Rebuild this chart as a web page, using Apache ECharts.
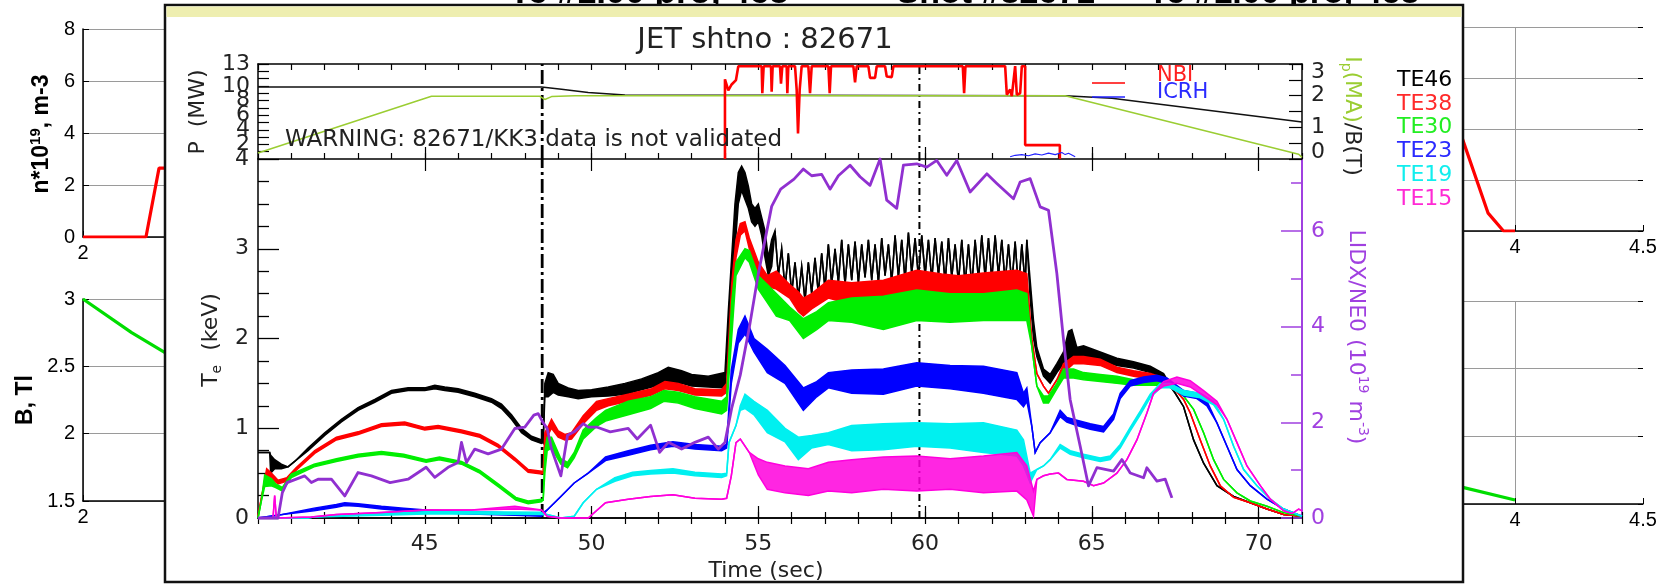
<!DOCTYPE html>
<html>
<head>
<meta charset="utf-8">
<script src="https://cdn.jsdelivr.net/npm/echarts@6/dist/echarts.min.js"></script>
<style>
  html, body { margin: 0; padding: 0; background: #fff; }
  #chart { width: 1666px; height: 584px; }
</style>
</head>
<body>
<div id="chart"></div>
<script>
// ---------------- background profile plots ----------------
const densityLeft  = [[2, 0], [2.246, 0], [2.297, 2.65], [2.34, 2.65]];
const fieldLeft    = [[2, 3.0], [2.19, 2.75], [2.34, 2.58]];
const densityRight = [[3.78, 3.9], [3.79, 3.75], [3.895, 0.7], [3.955, 0], [4.0, 0]];
const fieldRight   = [[3.78, 1.63], [4.0, 1.53]];

// ---------------- JET pulse 82671 ----------------
const eventTimes = [48.52, 59.83];
const timeLabels = [45, 50, 55, 60, 65, 70];
const powerLabels = [0, 2, 4, 6, 8, 10, 13];
const ipbtLabels = [0, 1, 2, 3];
const teLabels = [0, 1, 2, 3, 4];
const densLabels = [0, 2, 4, 6];

// plasma current (MA) and toroidal field (T)
const plasmaCurrent = [[40, 0.19], [45.2, 1.98], [48.45, 1.98], [48.6, 1.88], [48.8, 1.97], [49.5, 2.0], [64.2, 2.0], [71.2, 0.15], [71.3, 0.05]];
const toroidalField = [[40, 2.27], [48.5, 2.27], [49.1, 2.2], [49.9, 2.1], [51.0, 2.02], [64.2, 2.0], [65.6, 1.92], [71.3, 1.17]];

// heating power (MW)
const nbiPower = [[54.0, 0], [54.0, 10.9], [54.1, 9.4], [54.2, 10.2], [54.33, 10.8], [54.4, 12.7], [55.1, 12.7], [55.12, 9.0], [55.16, 12.7],
  [55.38, 12.7], [55.4, 9.2], [55.43, 12.7], [55.65, 12.7], [55.68, 10.3], [55.72, 12.7], [55.85, 12.7], [55.87, 9.0], [55.9, 12.7],
  [56.1, 12.7], [56.15, 9.5], [56.19, 3.5], [56.24, 9.5], [56.3, 12.7], [56.5, 12.7], [56.55, 9.0], [56.6, 12.7], [57.1, 12.7], [57.14, 9.0],
  [57.18, 12.7], [57.85, 12.7], [57.9, 10.5], [57.95, 12.7], [58.3, 12.7], [58.35, 11.1], [58.5, 11.1], [58.55, 12.7], [58.8, 12.7],
  [58.85, 11.3], [59.0, 11.2], [59.05, 12.7], [61.13, 12.7], [61.17, 9.0], [61.21, 12.7], [62.4, 12.7], [62.45, 8.8], [62.55, 9.5],
  [62.6, 8.6], [62.7, 12.7], [62.75, 8.8], [62.85, 9.0], [62.9, 12.7], [63.0, 12.7], [63.0, 1.9], [64.04, 1.9], [64.04, 0]];
const icrhPower = [[62.55, 0.3], [62.7, 0.5], [62.9, 0.6], [63.1, 0.45], [63.3, 0.7], [63.5, 0.55], [63.7, 0.8], [63.9, 0.6], [64.1, 0.9], [64.2, 0.6], [64.3, 0.8], [64.5, 0.3]];

// ECE electron temperature channels (keV): [time, low, high] where scattered, [time, value] otherwise
const te46 = [[40.0, 0.73], [40.35, 0.73], [40.38, 0.5, 0.7], [40.5, 0.55, 0.65], [40.7, 0.55, 0.6], [40.9, 0.57], [41.1, 0.63], [41.5, 0.75, 0.78],
  [42.0, 0.92, 0.95], [42.5, 1.07, 1.1], [43.0, 1.2, 1.23], [43.5, 1.29, 1.32], [44.0, 1.39, 1.42], [44.5, 1.42, 1.45], [45.0, 1.42, 1.45],
  [45.3, 1.44, 1.48], [45.6, 1.42, 1.46], [46.0, 1.4, 1.44], [46.5, 1.35, 1.39], [47.0, 1.29, 1.33], [47.3, 1.22, 1.27], [47.6, 1.1, 1.15],
  [47.9, 0.95, 1.0], [48.2, 0.87, 0.91], [48.5, 0.83, 0.87], [48.55, 0.84], [48.6, 1.35, 1.5], [48.7, 1.35, 1.62], [48.85, 1.4, 1.6],
  [49.0, 1.37, 1.5], [49.3, 1.35, 1.45], [49.6, 1.33, 1.42], [50.0, 1.35, 1.43], [50.5, 1.36, 1.46], [51.0, 1.38, 1.5], [51.5, 1.43, 1.55],
  [52.0, 1.48, 1.62], [52.3, 1.5, 1.68], [52.7, 1.5, 1.64], [53.0, 1.47, 1.6], [53.5, 1.46, 1.58], [54.0, 1.45, 1.62], [54.1, 1.9, 2.3],
  [54.2, 2.5, 2.9], [54.3, 3.0, 3.5], [54.4, 3.5, 3.85], [54.5, 3.65, 3.92], [54.6, 3.55, 3.85], [54.7, 3.45, 3.7], [54.8, 3.3, 3.5],
  [54.9, 3.25, 3.45], [55.0, 3.3, 3.5], [55.1, 3.15, 3.35], [55.2, 2.9, 3.2], [55.3, 2.7, 2.9], [55.4, 2.8, 3.1],
  // sawtooth crashes during the heated phase
  [55.5, 3.2], [55.6, 2.7], [55.7, 3.0], [55.8, 2.55], [55.9, 2.95], [56.0, 2.5], [56.1, 2.85], [56.2, 2.45], [56.3, 2.8], [56.4, 2.42],
  [56.5, 2.85], [56.6, 2.5], [56.7, 2.9], [56.8, 2.5], [56.9, 2.95], [57.0, 2.55], [57.1, 3.05], [57.2, 2.6], [57.3, 3.0], [57.4, 2.62],
  [57.5, 3.1], [57.6, 2.6], [57.7, 3.05], [57.8, 2.65], [57.9, 3.08], [58.0, 2.62], [58.1, 3.05], [58.2, 2.68], [58.3, 3.1], [58.4, 2.65],
  [58.5, 3.05], [58.6, 2.62], [58.7, 3.12], [58.8, 2.7], [58.9, 3.05], [59.0, 2.62], [59.1, 3.15], [59.2, 2.68], [59.3, 3.1], [59.4, 2.65],
  [59.5, 3.18], [59.6, 2.72], [59.7, 3.12], [59.8, 2.68], [59.9, 3.15], [60.0, 2.7], [60.1, 3.1], [60.2, 2.65], [60.3, 3.12], [60.4, 2.7],
  [60.5, 3.08], [60.6, 2.62], [60.7, 3.12], [60.8, 2.68], [60.9, 3.05], [61.0, 2.62], [61.1, 3.1], [61.2, 2.6], [61.3, 3.05], [61.4, 2.58],
  [61.5, 3.1], [61.6, 2.65], [61.7, 3.15], [61.8, 2.68], [61.9, 3.12], [62.0, 2.65], [62.1, 3.15], [62.2, 2.7], [62.3, 3.1], [62.4, 2.62],
  [62.5, 3.05], [62.6, 2.6], [62.7, 3.08], [62.8, 2.55], [62.9, 3.05], [63.0, 2.6], [63.05, 3.1],
  [63.15, 2.45, 2.65], [63.25, 2.0, 2.2], [63.35, 1.8, 1.9], [63.55, 1.58, 1.66], [63.75, 1.5, 1.6], [63.95, 1.62, 1.72], [64.15, 1.72, 1.85],
  [64.3, 1.75, 2.08], [64.4, 1.78, 2.1], [64.55, 1.78, 1.9], [64.75, 1.8, 1.92], [65.25, 1.76, 1.85], [65.75, 1.7, 1.78], [66.25, 1.67, 1.74],
  [66.75, 1.62, 1.69], [67.15, 1.56, 1.61], [67.5, 1.39], [67.75, 1.24], [68.05, 0.87], [68.35, 0.61], [68.75, 0.36], [69.25, 0.24],
  [69.75, 0.17], [70.25, 0.1], [70.75, 0.04], [71.3, 0.02]];

const te38 = [[40.0, 0.02], [40.13, 0.28], [40.26, 0.45, 0.55], [40.4, 0.44, 0.5], [40.6, 0.38, 0.42], [40.87, 0.41, 0.45], [41.14, 0.53, 0.56],
  [41.7, 0.72, 0.75], [42.35, 0.87, 0.9], [43.0, 0.93, 0.96], [43.7, 1.02, 1.05], [44.4, 1.04, 1.07], [45.0, 0.98, 1.01], [45.4, 1.0, 1.03],
  [46.1, 0.95, 0.98], [46.65, 0.9, 0.93], [47.2, 0.79, 0.82], [47.7, 0.64, 0.67], [48.1, 0.51, 0.54], [48.5, 0.49, 0.52], [48.55, 0.5],
  [48.6, 0.8, 0.95], [48.7, 0.93, 1.02], [48.8, 1.0, 1.1], [49.0, 0.9, 0.97], [49.2, 0.87, 0.93], [49.4, 0.88, 0.95], [49.75, 1.05, 1.14],
  [50.15, 1.2, 1.3], [50.5, 1.25, 1.33], [51.1, 1.3, 1.38], [51.8, 1.37, 1.44], [52.2, 1.44, 1.52], [52.6, 1.42, 1.5], [53.1, 1.37, 1.44],
  [53.9, 1.36, 1.43], [54.05, 1.4, 1.5], [54.2, 2.2, 2.6], [54.33, 2.9, 3.1], [54.46, 3.15, 3.28], [54.6, 3.2, 3.3], [54.73, 3.0, 3.12],
  [55.0, 2.72, 2.85], [55.27, 2.58, 2.7], [55.54, 2.55, 2.75], [55.94, 2.45, 2.6], [56.2, 2.3, 2.52], [56.35, 2.25, 2.45], [56.6, 2.33, 2.5],
  [57.1, 2.45, 2.65], [57.8, 2.38, 2.62], [58.75, 2.4, 2.65], [59.75, 2.5, 2.76], [60.5, 2.47, 2.72], [61.0, 2.45, 2.7], [61.75, 2.47, 2.73],
  [62.75, 2.5, 2.76], [63.05, 2.45, 2.72], [63.2, 1.99], [63.35, 1.61], [63.55, 1.47], [63.7, 1.39], [63.95, 1.54], [64.15, 1.62, 1.72],
  [64.45, 1.72, 1.8], [64.75, 1.72, 1.8], [65.25, 1.7, 1.77], [65.75, 1.62, 1.68], [66.25, 1.58, 1.64], [66.75, 1.55, 1.61],
  [67.15, 1.52, 1.56], [67.5, 1.43], [67.75, 1.32], [67.95, 1.17], [68.25, 0.87], [68.55, 0.58], [68.85, 0.36], [69.25, 0.23],
  [69.75, 0.17], [70.25, 0.1], [70.75, 0.04], [71.3, 0.02]];

const te30 = [[40.0, 0.0], [40.09, 0.17], [40.2, 0.35, 0.48], [40.4, 0.36, 0.44], [40.53, 0.34, 0.38], [40.73, 0.3, 0.34], [41.0, 0.45, 0.49],
  [41.68, 0.57, 0.6], [42.35, 0.63, 0.66], [43.0, 0.68, 0.71], [43.7, 0.71, 0.74], [44.37, 0.68, 0.71], [45.04, 0.62, 0.65],
  [45.44, 0.65, 0.68], [46.1, 0.6, 0.63], [46.65, 0.5, 0.53], [47.2, 0.35, 0.38], [47.73, 0.2, 0.23], [48.1, 0.16, 0.19], [48.5, 0.18, 0.21],
  [48.55, 0.2], [48.6, 0.5, 0.75], [48.67, 0.75, 0.9], [48.8, 0.78, 0.9], [49.08, 0.6, 0.66], [49.28, 0.56, 0.62], [49.48, 0.67, 0.73],
  [49.75, 0.88, 0.98], [50.15, 1.02, 1.12], [50.42, 1.08, 1.2], [51.1, 1.15, 1.3], [51.77, 1.22, 1.35], [52.17, 1.3, 1.42], [52.6, 1.28, 1.4],
  [53.1, 1.22, 1.35], [53.9, 1.16, 1.3], [54.05, 1.2, 1.35], [54.2, 2.0, 2.4], [54.33, 2.7, 2.85], [54.6, 2.9, 3.0], [54.73, 2.85, 2.98],
  [55.0, 2.55, 2.7], [55.27, 2.4, 2.6], [55.54, 2.25, 2.5], [55.94, 2.2, 2.35], [56.35, 2.0, 2.22], [56.75, 2.1, 2.3], [57.1, 2.2, 2.4],
  [57.8, 2.18, 2.45], [58.75, 2.1, 2.47], [59.75, 2.2, 2.54], [60.75, 2.18, 2.5], [61.75, 2.2, 2.5], [62.75, 2.2, 2.54], [63.05, 2.2, 2.5],
  [63.2, 1.91], [63.35, 1.47], [63.55, 1.28, 1.36], [63.7, 1.28, 1.36], [63.95, 1.44, 1.5], [64.15, 1.56, 1.66], [64.45, 1.56, 1.66],
  [64.75, 1.54, 1.62], [65.25, 1.52, 1.6], [65.75, 1.5, 1.58], [66.25, 1.48, 1.54], [66.75, 1.48, 1.53], [67.15, 1.48, 1.53], [67.5, 1.43],
  [67.75, 1.36], [68.05, 1.21], [68.35, 0.95], [68.65, 0.65], [68.95, 0.43], [69.35, 0.28], [69.75, 0.19], [70.25, 0.13], [70.75, 0.06],
  [71.3, 0.02]];

const te23 = [[40.0, 0.0], [40.73, 0.04], [41.68, 0.08, 0.11], [42.35, 0.12, 0.15], [42.6, 0.14, 0.17], [43.0, 0.13, 0.16], [43.7, 0.1, 0.13],
  [44.37, 0.08, 0.11], [45.04, 0.065, 0.09], [46.4, 0.045, 0.07], [47.7, 0.03, 0.055], [48.5, 0.02, 0.045], [48.67, 0.09], [49.08, 0.24],
  [49.48, 0.39], [49.9, 0.5], [50.42, 0.64, 0.68], [51.1, 0.7, 0.75], [51.77, 0.76, 0.81], [52.44, 0.8, 0.85], [53.1, 0.77, 0.82],
  [53.9, 0.75, 0.8], [54.05, 0.78, 0.82], [54.19, 1.5, 1.65], [54.4, 1.95, 2.1], [54.6, 2.05, 2.25], [54.87, 1.85, 2.0], [55.27, 1.62, 1.88],
  [55.8, 1.5, 1.7], [56.35, 1.2, 1.45], [56.75, 1.35, 1.52], [57.1, 1.45, 1.62], [57.8, 1.39, 1.65], [58.75, 1.38, 1.66], [59.75, 1.47, 1.73],
  [60.75, 1.44, 1.7], [61.75, 1.39, 1.69], [62.75, 1.32, 1.62], [62.95, 1.24, 1.39], [63.05, 1.3, 1.45], [63.2, 1.02], [63.3, 0.73],
  [63.45, 0.84], [63.75, 0.95], [64.05, 1.13, 1.2], [64.25, 1.07, 1.12], [64.55, 1.03, 1.09], [64.95, 0.99, 1.05], [65.35, 0.96, 1.02],
  [65.65, 1.1, 1.16], [65.85, 1.33, 1.39], [66.15, 1.47, 1.53], [66.55, 1.51, 1.57], [66.95, 1.53, 1.59], [67.25, 1.5, 1.56],
  [67.75, 1.36, 1.42], [68.15, 1.33, 1.39], [68.45, 1.25, 1.3], [68.75, 1.06], [69.05, 0.8], [69.35, 0.54], [69.75, 0.36], [70.25, 0.21],
  [70.75, 0.1], [71.3, 0.02]];

const te19 = [[40.0, 0.0], [41.5, 0.0], [41.68, 0.01], [43.7, 0.03, 0.055], [45.04, 0.045, 0.07], [46.4, 0.045, 0.07], [48.47, 0.04, 0.065],
  [48.67, 0.04], [49.08, 0.0], [49.48, 0.02], [49.75, 0.17], [50.15, 0.32], [50.7, 0.41, 0.45], [51.23, 0.47, 0.51], [51.77, 0.49, 0.53],
  [52.44, 0.5, 0.55], [53.1, 0.47, 0.51], [53.9, 0.45, 0.49], [54.05, 0.47, 0.5], [54.12, 0.84], [54.33, 1.03], [54.46, 1.2, 1.25],
  [54.6, 1.22, 1.38], [54.87, 1.15, 1.3], [55.27, 0.95, 1.2], [55.8, 0.85, 1.0], [56.2, 0.65, 0.9], [56.6, 0.78, 0.92], [57.1, 0.82, 0.95],
  [57.8, 0.75, 1.03], [58.75, 0.76, 1.05], [59.75, 0.8, 1.06], [60.75, 0.78, 1.05], [61.75, 0.73, 1.06], [62.75, 0.69, 0.98],
  [62.95, 0.58, 0.87], [63.15, 0.39, 0.5], [63.35, 0.54], [63.55, 0.58], [63.75, 0.65], [64.05, 0.78, 0.82], [64.35, 0.71, 0.75],
  [64.75, 0.67, 0.71], [65.25, 0.63, 0.67], [65.55, 0.65, 0.69], [65.85, 0.78, 0.82], [66.15, 0.97, 1.01], [66.45, 1.15, 1.19],
  [66.75, 1.34, 1.38], [67.05, 1.45, 1.5], [67.35, 1.45, 1.5], [67.75, 1.37, 1.42], [68.25, 1.34, 1.39], [68.65, 1.26, 1.3], [68.95, 1.1],
  [69.25, 0.8], [69.55, 0.54], [69.95, 0.36], [70.35, 0.21], [70.75, 0.1], [71.3, 0.02]];

const te15 = [[40.0, 0.0], [40.45, 0.0], [40.5, 0.25], [40.55, 0.0], [41.6, 0.01], [42.35, 0.04], [43.7, 0.06], [45.04, 0.09], [46.4, 0.09],
  [47.7, 0.1, 0.13], [48.5, 0.09], [48.67, 0.02], [49.08, 0.0], [49.9, 0.0], [50.42, 0.17], [51.1, 0.21], [51.77, 0.24], [52.44, 0.26],
  [53.1, 0.22], [53.9, 0.21], [54.05, 0.22], [54.19, 0.47], [54.33, 0.84], [54.46, 0.88], [54.73, 0.73], [55.0, 0.48, 0.66],
  [55.27, 0.32, 0.62], [55.8, 0.28, 0.58], [56.5, 0.25, 0.55], [57.1, 0.3, 0.62], [57.8, 0.28, 0.65], [58.75, 0.32, 0.68], [59.75, 0.3, 0.69],
  [60.75, 0.32, 0.66], [61.75, 0.28, 0.69], [62.75, 0.3, 0.73], [63.05, 0.2, 0.58], [63.25, 0.02, 0.3], [63.35, 0.43], [63.55, 0.47],
  [63.75, 0.49], [64.0, 0.5], [64.25, 0.43], [64.75, 0.41], [65.05, 0.36], [65.35, 0.39], [65.75, 0.5], [66.05, 0.65], [66.35, 0.87],
  [66.65, 1.17], [66.85, 1.39], [67.15, 1.47, 1.52], [67.55, 1.5, 1.57], [67.95, 1.46, 1.53], [68.35, 1.36, 1.42], [68.75, 1.26, 1.3],
  [69.05, 1.1], [69.35, 0.84], [69.65, 0.58], [70.05, 0.36], [70.35, 0.21], [70.75, 0.08], [71.0, 0.05], [71.2, 0.1], [71.3, 0.08]];

// line-integrated density LIDX/NE0 (10^19 m^-3)
const lidx = [[40.0, 0.0], [40.6, 0.0], [40.73, 0.53], [40.87, 0.74], [41.4, 0.88], [41.6, 0.74], [41.8, 0.81], [42.2, 0.81], [42.6, 0.46],
  [43.0, 0.95], [43.4, 0.88], [43.96, 0.74], [44.5, 0.81], [45.04, 1.06], [45.3, 0.85], [45.7, 1.06], [46.0, 1.16], [46.1, 1.58],
  [46.25, 1.16], [46.5, 1.44], [46.9, 1.34], [47.3, 1.44], [47.7, 1.87], [48.0, 1.9], [48.27, 2.15], [48.4, 2.18], [48.54, 2.0],
  [48.67, 1.87], [48.8, 1.44], [49.08, 0.88], [49.28, 1.73], [49.48, 1.8], [49.75, 1.97], [49.9, 1.9], [50.15, 1.9], [50.56, 1.8],
  [51.1, 1.87], [51.37, 1.65], [51.77, 1.94], [52.04, 1.37], [52.3, 1.58], [52.7, 1.44], [53.1, 1.58], [53.5, 1.69], [53.8, 1.44],
  [54.0, 1.58], [54.2, 2.29], [54.46, 2.99], [54.73, 3.98], [55.0, 5.1], [55.4, 6.51], [55.67, 6.87], [56.07, 7.08], [56.35, 7.29],
  [56.6, 7.15], [56.9, 7.18], [57.15, 6.87], [57.4, 7.15], [57.75, 7.37], [58.05, 7.13], [58.35, 6.95], [58.65, 7.5], [58.85, 6.64],
  [59.15, 6.47], [59.35, 7.37], [59.75, 7.4], [60.05, 7.33], [60.35, 7.47], [60.65, 7.16], [60.95, 7.47], [61.35, 6.81], [61.85, 7.19],
  [62.15, 6.99], [62.65, 6.67], [62.85, 7.02], [63.15, 7.09], [63.45, 6.5], [63.7, 6.43], [63.95, 5.11], [64.15, 3.72], [64.35, 2.47],
  [64.65, 1.5], [64.9, 0.67], [65.15, 1.05], [65.65, 0.98], [65.9, 1.22], [66.15, 0.94], [66.55, 0.84], [66.65, 1.05], [66.95, 0.77],
  [67.2, 0.81], [67.4, 0.42]];

const channelNames = ['TE46', 'TE38', 'TE30', 'TE23', 'TE19', 'TE15'];
const channelColors = ['#000000', '#ff0000', '#00ee00', '#0000ff', '#00f0f0', '#ff00dd'];
const legendColors = ['#000000', '#ff2a2a', '#22ee22', '#2a2aff', '#11eeee', '#ff2ad4'];
const channelData = [te46, te38, te30, te23, te19, te15];

// ---------------- styling helpers ----------------
const BG_FONT = 'Liberation Sans';
const FG_FONT = 'DejaVu Sans';
const PURPLE = '#9030d0';
const PURPLE_AXIS = '#a040e0';
const IP_GREEN = '#9acd32';
const T_MIN = 40, T_MAX = 71.3;

function bgX(grid, showMax) {
  return {
    gridIndex: grid, type: 'value', min: 2, max: 4.5, interval: 0.5, position: 'bottom', zlevel: 0,
    axisLine: { show: true, lineStyle: { color: '#000', width: 1.5 } },
    axisTick: { show: true, inside: true, length: 6, lineStyle: { color: '#000' } },
    axisLabel: { show: true, fontSize: 20, color: '#000', fontFamily: BG_FONT, margin: 6 },
    splitLine: { show: true, showMaxLine: showMax, lineStyle: { color: '#9a9a9a', width: 1 } }
  };
}
function bgY(grid, min, max, step) {
  return {
    gridIndex: grid, type: 'value', min: min, max: max, interval: step, position: 'left', zlevel: 0,
    axisLine: { show: true, lineStyle: { color: '#000', width: 1.5 } },
    axisTick: { show: true, inside: true, length: 6, lineStyle: { color: '#000' } },
    axisLabel: { show: true, fontSize: 20, color: '#000', fontFamily: BG_FONT, margin: 8 },
    splitLine: { show: true, lineStyle: { color: '#9a9a9a', width: 1 } }
  };
}
function bgYRightTicks(grid, min, max, step) {
  return {
    gridIndex: grid, type: 'value', min: min, max: max, interval: step, position: 'right', zlevel: 0,
    axisLine: { show: false }, axisLabel: { show: false }, splitLine: { show: false },
    axisTick: { show: true, inside: true, length: 5, lineStyle: { color: '#000' } }
  };
}
function timeAxis(grid, pos, opts) {
  const o = opts || {};
  return {
    gridIndex: grid, type: 'value', min: T_MIN, max: T_MAX, position: pos, zlevel: 2,
    interval: o.customTicks ? undefined : 1,
    axisLine: { show: !!o.line, lineStyle: { color: '#000', width: 1.5 } },
    axisTick: { show: true, inside: true, length: o.tickLen || 6, lineStyle: { color: '#000', width: 1.2 },
      customValues: o.customTicks },
    axisLabel: o.labels ? { show: true, customValues: o.labels, fontSize: 22, color: '#222', fontFamily: FG_FONT, margin: 15 }
                        : { show: false },
    splitLine: { show: false }
  };
}

// ---------------- axes ----------------
const xAxes = [
  bgX(0, true), bgX(1, true), bgX(2, false), bgX(3, false),
  timeAxis(4, 'bottom', { line: true }),                                   // 4 power panel, 1 s ticks
  timeAxis(4, 'bottom', { customTicks: timeLabels, tickLen: 12 }),         // 5 power panel, 5 s ticks
  timeAxis(4, 'top', { line: true }),                                      // 6
  timeAxis(5, 'bottom', { line: true }),                                   // 7 temperature panel
  timeAxis(5, 'bottom', { customTicks: timeLabels, tickLen: 12, labels: timeLabels }), // 8
  timeAxis(5, 'top', { line: true }),                                      // 9
  timeAxis(5, 'top', { customTicks: timeLabels, tickLen: 12 })             // 10
];

const fgLabel = { fontSize: 22, color: '#222', fontFamily: FG_FONT };
const yAxes = [
  bgY(0, 0, 8, 2), bgY(1, 1.5, 3, 0.5), bgY(2, 0, 8, 2), bgY(3, 1.5, 3, 0.5),
  bgYRightTicks(2, 0, 8, 2), bgYRightTicks(3, 1.5, 3, 0.5),
  { // 6 heating power
    gridIndex: 4, type: 'value', min: 0, max: 13, interval: 1, position: 'left', zlevel: 2,
    axisLine: { show: true, lineStyle: { color: '#000', width: 1.5 } },
    axisTick: { show: true, inside: true, length: 11, lineStyle: { color: '#000', width: 1.2 } },
    axisLabel: Object.assign({ show: true, customValues: powerLabels, margin: 8 }, fgLabel),
    splitLine: { show: false }
  },
  { // 7 Ip / Bt
    gridIndex: 4, type: 'value', min: 0, max: 3, interval: 0.5, position: 'right', zlevel: 2,
    axisLine: { show: true, lineStyle: { color: '#000', width: 1.5 } },
    axisTick: { show: true, inside: true, length: 13, lineStyle: { color: '#000', width: 1.2 } },
    axisLabel: Object.assign({
      show: true, customValues: ipbtLabels, margin: 9,
      formatter: function (v) { return v === 3 ? '{dn|3}' : (v === 0 ? '{up|0}' : String(v)); },
      rich: {
        dn: { fontSize: 22, color: '#222', fontFamily: FG_FONT, padding: [17, 0, 0, 0] },
        up: { fontSize: 22, color: '#222', fontFamily: FG_FONT, padding: [0, 0, 14, 0] }
      }
    }, fgLabel),
    splitLine: { show: false }
  },
  { // 8 electron temperature
    gridIndex: 5, type: 'value', min: 0, max: 4, interval: 1, position: 'left', zlevel: 2,
    axisLine: { show: true, lineStyle: { color: '#000', width: 1.5 } },
    axisTick: { show: true, inside: true, length: 21, lineStyle: { color: '#000', width: 1.3 } },
    minorTick: { show: true, splitNumber: 4, length: 11, lineStyle: { color: '#000', width: 1.3 } },
    axisLabel: Object.assign({ show: true, customValues: teLabels, margin: 9 }, fgLabel),
    splitLine: { show: false }, minorSplitLine: { show: false }
  },
  { // 9 density, labelled ticks
    gridIndex: 5, type: 'value', min: 0, max: 7.5, position: 'right', zlevel: 2,
    axisLine: { show: true, lineStyle: { color: PURPLE_AXIS, width: 2 } },
    axisTick: { show: true, inside: true, length: 21, customValues: densLabels, lineStyle: { color: PURPLE_AXIS, width: 1.5 } },
    axisLabel: { show: true, customValues: densLabels, margin: 9, fontSize: 22, color: PURPLE_AXIS, fontFamily: FG_FONT },
    splitLine: { show: false }
  },
  { // 10 density, odd ticks
    gridIndex: 5, type: 'value', min: 0, max: 7.5, position: 'right', zlevel: 2,
    axisLine: { show: false }, axisLabel: { show: false }, splitLine: { show: false },
    axisTick: { show: true, inside: true, length: 11, customValues: [1, 3, 5, 7], lineStyle: { color: PURPLE_AXIS, width: 1.5 } }
  }
];

// ---------------- series ----------------
function plain(data, xi, yi, color, width, zl, z, extra) {
  return Object.assign({
    type: 'line', data: data, xAxisIndex: xi, yAxisIndex: yi, zlevel: zl, z: z,
    symbol: 'none', showSymbol: false, silent: true, animation: false,
    lineStyle: { color: color, width: width },
    emphasis: { disabled: true }
  }, extra || {});
}
// scatter envelope of one ECE channel: filled between low and high, outlined on both edges
function channelSeries(name, rows, color, fillOpacity) {
  const hiOf = function (r) { return r.length > 2 ? r[2] : r[1]; };
  return {
    type: 'custom', name: name, coordinateSystem: 'cartesian2d', xAxisIndex: 7, yAxisIndex: 8,
    zlevel: 2, z: 4, silent: true, animation: false,
    data: rows.map(function (r) { return [r[0], r[1], hiOf(r)]; }),
    encode: { x: 0, y: [1, 2] },
    renderItem: function (params, api) {
      if (params.dataIndex !== 0) return null;
      const upper = rows.map(function (r) { return api.coord([r[0], hiOf(r)]); });
      const lower = rows.map(function (r) { return api.coord([r[0], r[1]]); });
      return {
        type: 'group', children: [
          { type: 'polygon', shape: { points: upper.concat(lower.slice().reverse()) }, style: { fill: color, opacity: fillOpacity, lineWidth: 0 } },
          { type: 'polyline', shape: { points: upper }, style: { stroke: color, lineWidth: 1.5, fill: null } },
          { type: 'polyline', shape: { points: lower }, style: { stroke: color, lineWidth: 1.5, fill: null } }
        ]
      };
    }
  };
}
// density trace drawn as its own polyline so its stroke width is exact
function densitySeries(rows) {
  return {
    type: 'custom', name: 'LIDX', coordinateSystem: 'cartesian2d', xAxisIndex: 7, yAxisIndex: 9,
    zlevel: 2, z: 6, silent: true, animation: false,
    data: rows, encode: { x: 0, y: 1 },
    renderItem: function (params, api) {
      if (params.dataIndex !== 0) return null;
      return { type: 'polyline', shape: { points: rows.map(function (r) { return api.coord(r); }) },
               style: { stroke: PURPLE, lineWidth: 2.8, fill: null, lineJoin: 'round' } };
    }
  };
}

const series = [
  plain(densityLeft, 0, 0, '#ff0000', 3.2, 0, 2),
  plain(fieldLeft, 1, 1, '#00dd00', 3.2, 0, 2),
  plain(densityRight, 2, 2, '#ff0000', 3.2, 0, 2),
  plain(fieldRight, 3, 3, '#00dd00', 3.2, 0, 2),
  plain(toroidalField, 4, 7, '#111', 1.5, 2, 3),
  plain(plasmaCurrent, 4, 7, IP_GREEN, 1.5, 2, 3),
  plain(nbiPower, 4, 6, '#ff0000', 2.6, 2, 4),
  plain(icrhPower, 4, 6, '#2222ff', 1.1, 2, 4)
];
// time markers spanning both panels
eventTimes.forEach(function (t, i) {
  const dash = i === 0 ? [14, 4, 3, 4] : [7, 4, 2, 4];
  const w = i === 0 ? 2.8 : 2.0;
  series.push(plain([[t, 0], [t, 13]], 4, 6, '#000', w, 2, 2, { lineStyle: { color: '#000', width: w, type: dash } }));
  series.push(plain([[t, 0], [t, 4]], 7, 8, '#000', w, 2, 2, { lineStyle: { color: '#000', width: w, type: dash } }));
});
channelNames.forEach(function (n, i) {
  series.push(channelSeries(n, channelData[i], channelColors[i], i === 5 ? 0.85 : 1));
});
series.push(densitySeries(lidx));

// ---------------- text and frames ----------------
const g = [];
// titles of the profile figure behind the window (only their lower edge shows)
g.push({ type: 'text', zlevel: 0, x: 649, y: 11, style: { text: 'Te #1.00 pro, 4e3', fontSize: 35, fontWeight: 'bold', fontFamily: BG_FONT, fill: '#000', align: 'center', verticalAlign: 'bottom' } });
g.push({ type: 'text', zlevel: 0, x: 1158, y: 11, style: { text: 'Shot #82671 \u2014 Te #1.00 pro, 4e3', fontSize: 34, fontWeight: 'bold', fontFamily: BG_FONT, fill: '#000', align: 'center', verticalAlign: 'bottom' } });
g.push({ type: 'text', zlevel: 0, x: 42, y: 134, rotation: Math.PI / 2, style: {
  text: '{a|n*10}{s|19}{a|, m-3}', align: 'center', verticalAlign: 'middle',
  rich: { a: { fontSize: 23, fontWeight: 'bold', fontFamily: BG_FONT, fill: '#000', lineHeight: 28 },
          s: { fontSize: 15, fontWeight: 'bold', fontFamily: BG_FONT, fill: '#000', verticalAlign: 'top', lineHeight: 28 } } } });
g.push({ type: 'text', zlevel: 0, x: 26, y: 400, rotation: Math.PI / 2, style: {
  text: 'B, Tl', fontSize: 23, fontWeight: 'bold', fontFamily: BG_FONT, fill: '#000', align: 'center', verticalAlign: 'middle' } });

// window frame
g.push({ type: 'rect', zlevel: 1, z: 0, shape: { x: 165, y: 5, width: 1298, height: 577 }, style: { fill: '#ffffff', stroke: '#111', lineWidth: 2.5 } });
g.push({ type: 'rect', zlevel: 1, z: 1, shape: { x: 166.5, y: 6.5, width: 1295, height: 10.5 }, style: { fill: '#eeeeb0' } });

const fgText = function (x, y, text, opts) {
  const o = opts || {};
  return { type: 'text', zlevel: 2, z: 20, x: x, y: y, rotation: o.rot || 0, style: Object.assign({
    text: text, fontSize: o.size || 22, fontFamily: FG_FONT, fill: o.color || '#222',
    align: o.align || 'center', verticalAlign: 'middle' }, o.style || {}) };
};
g.push(fgText(765, 40, 'JET shtno : 82671', { size: 29 }));
g.push(fgText(285, 140, 'WARNING: 82671/KK3 data is not validated', { size: 23, align: 'left' }));
g.push(fgText(198, 112, 'P  (MW)', { rot: Math.PI / 2 }));
g.push(fgText(211, 340, '', { rot: Math.PI / 2, style: {
  text: '{a|T}{b|e}{a|  (keV)}',
  rich: { a: { fontSize: 22, fontFamily: FG_FONT, fill: '#222', lineHeight: 26 },
          b: { fontSize: 14, fontFamily: FG_FONT, fill: '#222', verticalAlign: 'bottom', lineHeight: 26 } } } }));
g.push(fgText(766, 571, 'Time (sec)'));
g.push(fgText(1352, 116, '', { rot: -Math.PI / 2, style: {
  text: '{g|I}{gs|p}{g|(MA)}{k|/B(T)}',
  rich: { g: { fontSize: 22, fontFamily: FG_FONT, fill: IP_GREEN, lineHeight: 26 },
          gs: { fontSize: 14, fontFamily: FG_FONT, fill: IP_GREEN, verticalAlign: 'bottom', lineHeight: 26 },
          k: { fontSize: 22, fontFamily: FG_FONT, fill: '#222', lineHeight: 26 } } } }));
g.push(fgText(1356, 337, '', { rot: -Math.PI / 2, style: {
  text: '{a|LIDX/NE0 (10}{s|19}{a| m}{s|-3}{a|)}',
  rich: { a: { fontSize: 22, fontFamily: FG_FONT, fill: PURPLE_AXIS, lineHeight: 28 },
          s: { fontSize: 14, fontFamily: FG_FONT, fill: PURPLE_AXIS, verticalAlign: 'top', lineHeight: 28 } } } }));
// heating legend
g.push({ type: 'line', zlevel: 2, z: 20, shape: { x1: 1092, y1: 83, x2: 1125, y2: 83 }, style: { stroke: '#ff0000', lineWidth: 1.5 } });
g.push({ type: 'line', zlevel: 2, z: 20, shape: { x1: 1092, y1: 97, x2: 1125, y2: 97 }, style: { stroke: '#2222ff', lineWidth: 1.5 } });
g.push(fgText(1157, 76, 'NBI', { size: 21, align: 'left', color: '#ff2020' }));
g.push(fgText(1157, 93, 'ICRH', { size: 21, align: 'left', color: '#2a2aff' }));
// channel legend
channelNames.forEach(function (n, i) {
  g.push(fgText(1397, 80 + i * 23.8, n, { size: 22, align: 'left', color: legendColors[i] }));
});

const grids = [
  { left: 83, top: 29, width: 640, height: 208 },
  { left: 83, top: 299, width: 640, height: 202 },
  { left: 1003, top: 27, width: 640, height: 204 },
  { left: 1003, top: 301, width: 640, height: 203 },
  { left: 258, top: 64, width: 1044, height: 95 },
  { left: 258, top: 159, width: 1044, height: 359 }
].map(function (gr, i) {
  return Object.assign({ containLabel: false, outerBoundsMode: 'none', show: false, zlevel: i < 4 ? 0 : 2 }, gr);
});

const chart = echarts.init(document.getElementById('chart'), null, { renderer: 'canvas' });
chart.setOption({
  animation: false,
  backgroundColor: '#ffffff',
  grid: grids,
  xAxis: xAxes,
  yAxis: yAxes,
  series: series,
  graphic: { elements: g }
});
</script>
</body>
</html>
